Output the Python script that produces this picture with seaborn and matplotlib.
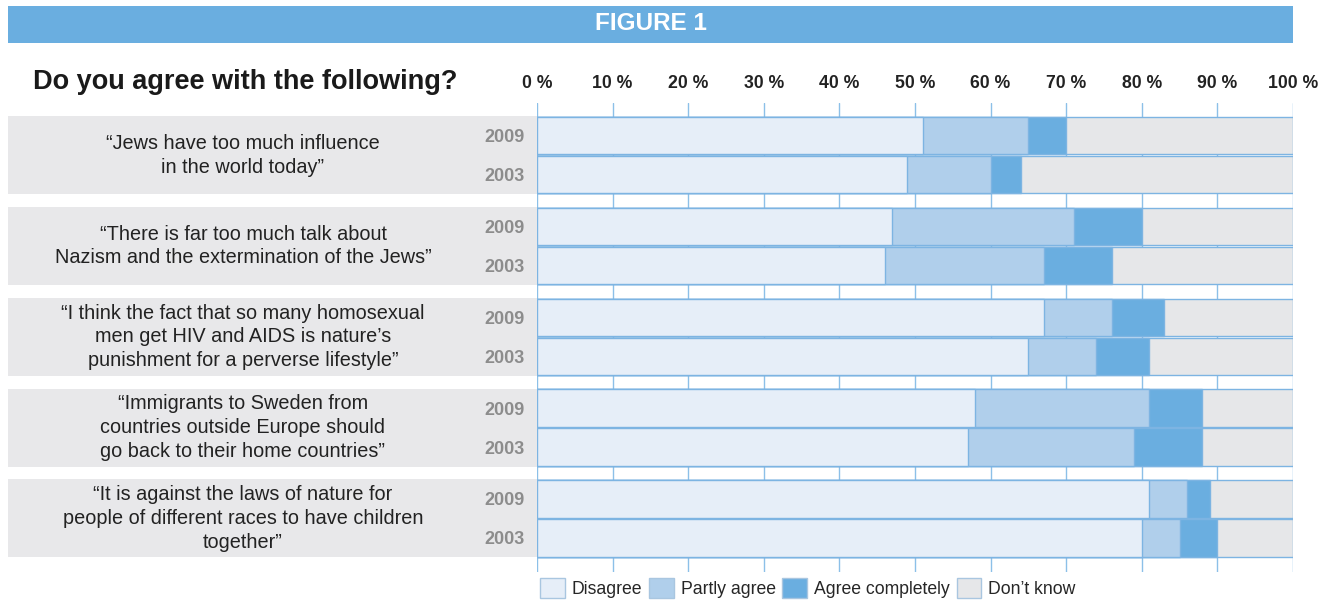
import numpy as np
import pandas as pd
import matplotlib
matplotlib.use("Agg")
import matplotlib.pyplot as plt
import seaborn as sns
from matplotlib.patches import Rectangle, Patch
from matplotlib.transforms import blended_transform_factory

# ---------------- data ----------------
statements = [
    "\u201cJews have too much influence\nin the world today\u201d",
    "\u201cThere is far too much talk about\nNazism and the extermination of the Jews\u201d",
    "\u201cI think the fact that so many homosexual\nmen get HIV and AIDS is nature\u2019s\npunishment for a perverse lifestyle\u201d",
    "\u201cImmigrants to Sweden from\ncountries outside Europe should\ngo back to their home countries\u201d",
    "\u201cIt is against the laws of nature for\npeople of different races to have children\ntogether\u201d",
]
years = ["2009", "2003"]
categories = ["Disagree", "Partly agree", "Agree completely", "Don\u2019t know"]

disagree_2009 = [51, 47, 67, 58, 81]
partly_2009   = [14, 24, 9, 23, 5]
agree_2009    = [5, 9, 7, 7, 3]
dontknow_2009 = [30, 20, 17, 12, 11]

disagree_2003 = [49, 46, 65, 57, 80]
partly_2003   = [11, 21, 9, 22, 5]
agree_2003    = [4, 9, 7, 9, 5]
dontknow_2003 = [36, 24, 19, 12, 10]

tick_values = list(range(0, 101, 10))
tick_labels = [f"{v} %" for v in tick_values]

# ---------------- styling ----------------
colors = ["#e6eef8", "#b0cfeb", "#6aaee0", "#e6e7e9"]
edge = "#7db4e2"
band_color = "#e8e8ea"
header_color = "#6aaee0"

sns.set_theme(style="white")
plt.rcParams["font.family"] = ["Liberation Sans", "DejaVu Sans"]

rows = []
for y, vals in [("2009", [disagree_2009, partly_2009, agree_2009, dontknow_2009]),
                ("2003", [disagree_2003, partly_2003, agree_2003, dontknow_2003])]:
    for i, s in enumerate(statements):
        rec = {"statement": s, "year": y}
        for c, v in zip(categories, vals):
            rec[c] = v[i]
        rows.append(rec)
df = pd.DataFrame(rows)
cum = df[categories].cumsum(axis=1)
for c in categories:
    df["cum_" + c] = cum[c]

W, H = 1335, 601
fig = plt.figure(figsize=(W / 100, H / 100), dpi=100)
ax = fig.add_axes([537 / W, 1 - 572 / H, (1293 - 537) / W, (572 - 103) / H])

bar_width = 0.86
for c, col in reversed(list(zip(categories, colors))):
    sns.barplot(data=df, y="statement", x="cum_" + c, hue="year",
                order=statements, hue_order=years, palette=[col, col],
                orient="h", width=bar_width, gap=0.04, saturation=1,
                edgecolor=edge, linewidth=1.0, errorbar=None, legend=False,
                ax=ax, zorder=3)

ax.set_xlim(0, 100)
ax.set_ylim(len(statements) - 1 + 0.59, -0.575)
ax.set_xticks(tick_values)
ax.set_xticklabels(tick_labels, fontsize=12.7, fontweight="bold", color="#222222")
ax.xaxis.tick_top()
ax.tick_params(axis="x", length=0, pad=8)
ax.set_yticks([])
ax.set_xlabel("")
ax.set_ylabel("")
ax.grid(axis="x", color="#8cc0e8", linewidth=1.0, zorder=0)
ax.set_axisbelow(True)
for sp in ax.spines.values():
    sp.set_visible(False)

# label bands, statements, years
tr = blended_transform_factory(fig.transFigure, ax.transData)
half = bar_width / 2
for i, s in enumerate(statements):
    fig.patches.append(Rectangle((8 / W, i - half), (537 - 8) / W, bar_width,
                                 transform=tr, facecolor=band_color,
                                 edgecolor="none", zorder=0))
    fig.text(243 / W, i, s, transform=tr, ha="center", va="center",
             fontsize=14.3, color="#222222", linespacing=1.32, zorder=2)
    for k, y in enumerate(years):
        off = (-1 if k == 0 else 1) * bar_width / 4
        fig.text(525 / W, i + off, y, transform=tr, ha="right",
                 va="center_baseline", fontsize=13, fontweight="bold",
                 color="#8c8c8c", zorder=2)

# header
fig.patches.append(Rectangle((8 / W, 1 - 43 / H), (1293 - 8) / W, 37 / H,
                             transform=fig.transFigure, facecolor=header_color,
                             edgecolor="none"))
fig.text(651 / W, 1 - 24 / H, "FIGURE 1", ha="center", va="center",
         fontsize=17.5, fontweight="bold", color="white")
fig.text(33 / W, 1 - 82 / H, "Do you agree with the following?", ha="left",
         va="center", fontsize=19.5, fontweight="bold", color="#1a1a1a")

# legend
handles = [Patch(facecolor=c, edgecolor="#a9c6e0", linewidth=1) for c in colors]
fig.legend(handles, categories, loc="center left",
           bbox_to_anchor=(540 / W, 1 - 588 / H), ncol=4, frameon=False,
           fontsize=12.7, handlelength=1.4, handleheight=1.4,
           handletextpad=0.4, columnspacing=0.38, borderaxespad=0,
           borderpad=0)

fig.savefig("out.png", dpi=100)
